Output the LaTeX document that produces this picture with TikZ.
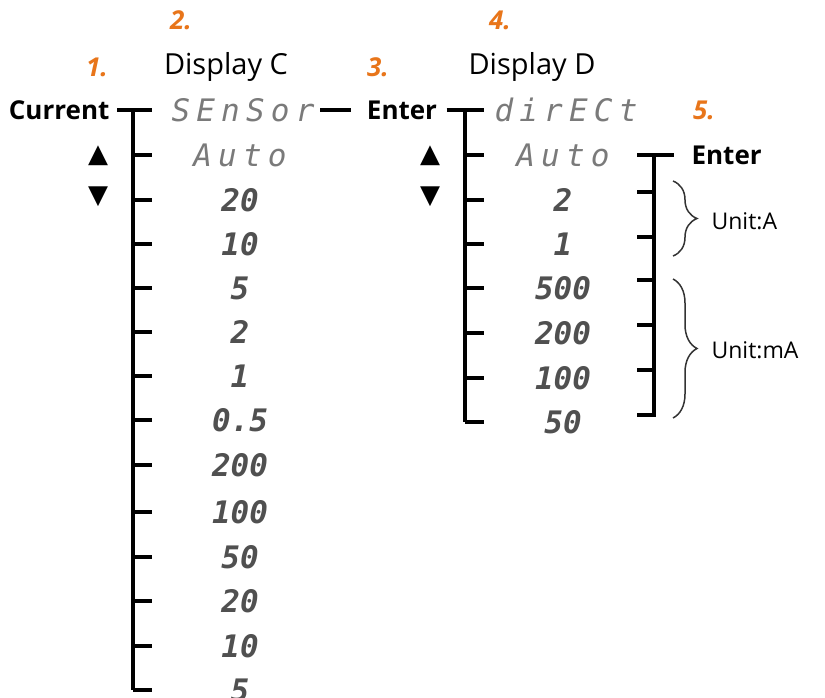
\documentclass[tikz,border=0pt]{standalone}
\usepackage{fontspec}
\setmainfont{Open Sans}
\newfontfamily\segfont{DejaVu Sans Mono}
\newfontfamily\symfont{DejaVu Sans}
\usetikzlibrary{decorations.pathreplacing}
\definecolor{stepnum}{HTML}{E8751A}
\definecolor{segletter}{HTML}{7A7A7A}
\definecolor{segdigit}{HTML}{505050}

\begin{document}
\begin{tikzpicture}[x=1pt,y=-1pt,line width=3.2pt,
  key/.style={font=\fontsize{26}{28}\selectfont\bfseries, inner sep=0pt, text height=18.7pt, text depth=0pt},
  title/.style={font=\fontsize{29}{31}\selectfont, inner sep=0pt, text height=20.9pt, text depth=0pt},
  num/.style={font=\fontsize{26}{28}\selectfont\bfseries\itshape, text=stepnum, inner sep=0pt, text height=18.7pt, text depth=0pt},
  seg/.style={font=\segfont\fontsize{31}{33}\selectfont\itshape\addfontfeature{LetterSpace=20}, text=segletter, inner sep=0pt, text height=22.6pt, text depth=0pt},
  digit/.style={font=\segfont\fontsize{31}{33}\selectfont\bfseries\itshape, text=segdigit, inner sep=0pt, text height=22.6pt, text depth=0pt},
  arrowkey/.style={font=\symfont\fontsize{26}{28}\selectfont, inner sep=0pt},
  unit/.style={font=\fontsize{23}{25}\selectfont, inner sep=0pt, anchor=west, text height=16.6pt, text depth=0pt}]
 \useasboundingbox (0,0) rectangle (825,697);
 % step numbers and titles
 \node[num] (n1) at (97,67) {1.};
 \node[num] (n2) at (181,20) {2.};
 \node[num] (n3) at (378,67) {3.};
 \node[num] (n4) at (500,20) {4.};
 \node[num] (n5) at (704,110) {5.};
 \node[title] (dc) at (226,64) {Display C};
 \node[title] (dd) at (532,64) {Display D};
 % keys
 \node[key, anchor=east] (cur) at (111,110) {Current};
 \node[arrowkey] (upc) at (98,156) {▲};
 \node[arrowkey] (dnc) at (98,197) {▼};
 \node[key] (ent1) at (402,110) {Enter};
 \node[arrowkey] (upd) at (430,156) {▲};
 \node[arrowkey] (dnd) at (430,197) {▼};
 \node[key, anchor=west] (ent2) at (690,155) {Enter};

 % display C
 \begin{scope}[every node/.style={digit}]
 \node[seg] (c1) at (243,110) {SEnSor};
 \node[seg] (c2) at (240,155) {Auto};
 \node (c3) at (240,200) {20};
 \node (c4) at (240,244) {10};
 \node (c5) at (240,288) {5};
 \node (c6) at (240,332) {2};
 \node (c7) at (240,376) {1};
 \node (c8) at (240,420) {0.5};
 \node (c9) at (240,465) {200};
 \node (c10) at (240,512) {100};
 \node (c11) at (240,557) {50};
 \node (c12) at (240,601) {20};
 \node (c13) at (240,646) {10};
 \node (c14) at (240,690) {5};
 \end{scope}
 \coordinate (cs) at (133,110);
 \coordinate (ct) at (152,110);
 \draw (cur.east) ++(6,0) -- (ct);
 \draw (cs) -- (cs |- c14);
 \draw (cs |- c2) -- +(19,0);
 \draw (cs |- c3) -- +(19,0);
 \draw (cs |- c4) -- +(19,0);
 \draw (cs |- c5) -- +(19,0);
 \draw (cs |- c6) -- +(19,0);
 \draw (cs |- c7) -- +(19,0);
 \draw (cs |- c8) -- +(19,0);
 \draw (cs |- c9) -- +(19,0);
 \draw (cs |- c10) -- +(19,0);
 \draw (cs |- c11) -- +(19,0);
 \draw (cs |- c12) -- +(19,0);
 \draw (cs |- c13) -- +(19,0);
 \draw (cs |- c14) -- +(19,0);
 \draw (c1.east) ++(4,0) -- ([xshift=-14pt]ent1.west);

 % display D
 \begin{scope}[every node/.style={digit}]
 \node[seg] (d1) at (566,110) {dirECt};
 \node[seg] (d2) at (563,155) {Auto};
 \node (d3) at (563,200) {2};
 \node (d4) at (563,244) {1};
 \node (d5) at (563,288) {500};
 \node (d6) at (563,333) {200};
 \node (d7) at (563,378) {100};
 \node (d8) at (563,422) {50};
 \end{scope}
 \coordinate (ds) at (465,110);
 \coordinate (dt) at (484,110);
 \draw ([xshift=8pt]ent1.east) -- (dt);
 \draw (ds) -- (ds |- d8);
 \draw (ds |- d2) -- +(19,0);
 \draw (ds |- d3) -- +(19,0);
 \draw (ds |- d4) -- +(19,0);
 \draw (ds |- d5) -- +(19,0);
 \draw (ds |- d6) -- +(19,0);
 \draw (ds |- d7) -- +(19,0);
 \draw (ds |- d8) -- +(19,0);

 % unit selection
 \coordinate (rs) at (654,155);
 \coordinate (re) at (654,415);
 \draw (rs) ++(-17,0) -- ([xshift=-16pt]ent2.west);
 \draw (rs) -- (re) -- +(-17,0);
 \draw (rs |- 0,192) -- +(-17,0);
 \draw (rs |- 0,237) -- +(-17,0);
 \draw (rs |- 0,280) -- +(-17,0);
 \draw (rs |- 0,325) -- +(-17,0);
 \draw (rs |- 0,370) -- +(-17,0);
 \node[unit] (ua) at (710,221) {Unit:A};
 \node[unit] (uma) at (710,350) {Unit:mA};
 \draw[line width=1.5pt, black!80, decorate, decoration={brace, amplitude=24pt}] (673,181) -- (673,256);
 \draw[line width=1.5pt, black!80, decorate, decoration={brace, amplitude=24pt}] (673,279) -- (673,418);
\end{tikzpicture}
\end{document}
